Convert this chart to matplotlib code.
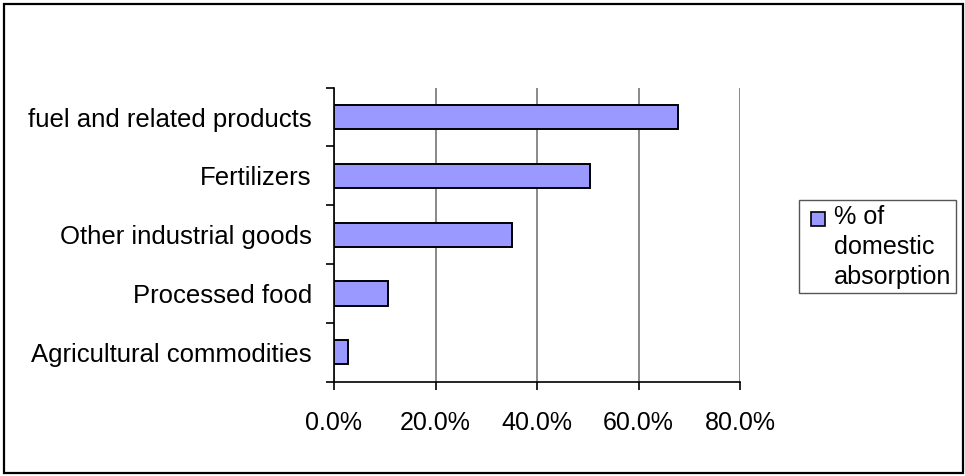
import matplotlib
matplotlib.use("Agg")
import matplotlib.pyplot as plt
import matplotlib.patches as patches
from matplotlib.ticker import FuncFormatter, MultipleLocator

# share of domestic absorption, bottom to top
categories = [
    "Agricultural commodities",
    "Processed food",
    "Other industrial goods",
    "Fertilizers",
    "fuel and related products",
]
shares = [2.8, 10.6, 35.1, 50.4, 67.7]
series_label = ["% of", "domestic", "absorption"]

BAR_COLOR = "#9999FF"
W, H = 965, 476

plt.rcParams["font.family"] = ["Liberation Sans", "DejaVu Sans"]

fig = plt.figure(figsize=(W / 100, H / 100), dpi=100)
fig.patch.set_facecolor("white")

def fx(px):
    return px / W

def fy(py):
    return 1 - py / H

ax = fig.add_axes([fx(334), fy(381.7), (740 - 334) / W, (381.7 - 87.7) / H])

ypos = list(range(len(categories)))
ax.barh(ypos, shares, height=0.41, color=BAR_COLOR, edgecolor="black",
        linewidth=1.4, zorder=3)

ax.set_xlim(0, 80)
ax.set_ylim(-0.5, len(categories) - 0.5)

# vertical gridlines
ax.xaxis.set_major_locator(MultipleLocator(20))
ax.xaxis.set_major_formatter(FuncFormatter(lambda v, _: f"{v:.1f}%"))
ax.grid(axis="x", color="#808080", linewidth=1.3, zorder=1)

# category labels at band centres, tick marks at band edges
ax.set_yticks(ypos)
ax.set_yticklabels(categories)
ax.set_yticks([i - 0.5 for i in range(len(categories) + 1)], minor=True)
ax.tick_params(axis="y", which="major", length=0, pad=16, labelsize=18.5)
ax.tick_params(axis="y", which="minor", length=6, width=1.2, direction="out", color="black")
ax.tick_params(axis="x", which="major", length=6, width=1.2, direction="out",
               pad=15, labelsize=18, color="black")

for s in ("top", "right"):
    ax.spines[s].set_visible(False)
for s in ("left", "bottom"):
    ax.spines[s].set_color("black")
    ax.spines[s].set_linewidth(1.2)

# legend box drawn by hand so the swatch sits on the first line
lx0, ly0, lx1, ly1 = 799, 200, 956, 293
fig.add_artist(patches.Rectangle((fx(lx0), fy(ly1)), (lx1 - lx0) / W, (ly1 - ly0) / H,
                                 transform=fig.transFigure, facecolor="white",
                                 edgecolor="#555555", linewidth=1.0))
fig.add_artist(patches.Rectangle((fx(811), fy(226)), 14 / W, 14 / H,
                                 transform=fig.transFigure, facecolor=BAR_COLOR,
                                 edgecolor="black", linewidth=1.2))
for i, line in enumerate(series_label):
    fig.text(fx(834), fy(224 + 30 * i), line, ha="left", va="baseline", fontsize=18.1)

# outer chart frame
fig.add_artist(patches.Rectangle((fx(4), fy(473)), 959 / W, 469 / H,
                                 transform=fig.transFigure, facecolor="none",
                                 edgecolor="black", linewidth=1.6))

fig.savefig("out.png", dpi=100, facecolor="white")
